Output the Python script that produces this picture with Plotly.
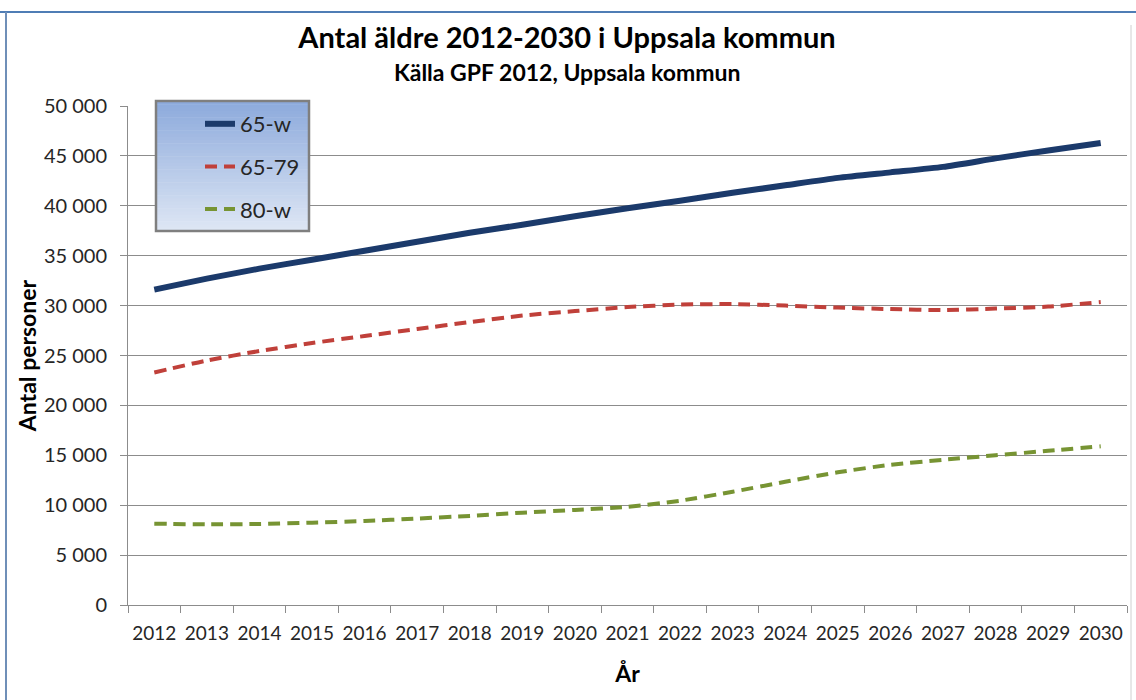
import plotly.graph_objects as go

years = [str(y) for y in range(2012, 2031)]
age_65w = [31600, 32700, 33700, 34600, 35500, 36400, 37300, 38100, 38950, 39750,
           40500, 41300, 42050, 42800, 43350, 43900, 44750, 45550, 46300]
age_65_79 = [23300, 24500, 25450, 26250, 26950, 27650, 28350, 29000, 29450, 29850,
             30100, 30150, 30000, 29800, 29650, 29550, 29700, 29900, 30350]
age_80w = [8150, 8080, 8120, 8250, 8420, 8660, 8930, 9250, 9530, 9830,
           10450, 11350, 12350, 13300, 14050, 14550, 15000, 15450, 15900]
y_ticks = [0, 5000, 10000, 15000, 20000, 25000, 30000, 35000, 40000, 45000, 50000]
y_labels = ["0", "5 000", "10 000", "15 000", "20 000", "25 000", "30 000",
            "35 000", "40 000", "45 000", "50 000"]

FONT = "Lato, 'Open Sans', sans-serif"
W, H = 1136, 700
L, R, T, B = 128, 1127, 106, 605  # plot area in px


def px(x):
    return (x - L) / (R - L)


def py(y):
    return (B - y) / (B - T)


fig = go.Figure()
fig.add_trace(go.Scatter(x=years, y=age_65w, name="65-w", mode="lines", legendgroup="a",
                         line=dict(color="#1B3A6B", width=6, shape="spline", smoothing=0.6)))
fig.add_trace(go.Scatter(x=years, y=age_65_79, name="65-79", mode="lines", legendgroup="b",
                         line=dict(color="#C0403A", width=4, dash="12px,7px", shape="spline", smoothing=0.6)))
fig.add_trace(go.Scatter(x=years, y=age_80w, name="80-w", mode="lines", legendgroup="c",
                         line=dict(color="#779433", width=4, dash="12px,7px", shape="spline", smoothing=0.6)))

shapes = []
# legend box gradient
lx0, lx1, ly0, ly1 = 156, 309, 101, 231
n = 40
top = (0x8D, 0xAA, 0xDC)
bot = (0xDD, 0xE6, 0xF4)
for i in range(n):
    t = i / (n - 1)
    c = tuple(round(top[k] + (bot[k] - top[k]) * t) for k in range(3))
    y0 = ly0 + (ly1 - ly0) * i / n
    y1 = ly0 + (ly1 - ly0) * (i + 1) / n + 0.6
    shapes.append(dict(type="rect", xref="paper", yref="paper", layer="above",
                       x0=px(lx0), x1=px(lx1), y0=py(y0), y1=py(min(y1, ly1)),
                       line=dict(width=0), fillcolor="rgb(%d,%d,%d)" % c))
shapes.append(dict(type="rect", xref="paper", yref="paper", layer="above",
                   x0=px(lx0), x1=px(lx1), y0=py(ly0), y1=py(ly1),
                   line=dict(color="#7F7F7F", width=2.5), fillcolor="rgba(0,0,0,0)"))
# chart border
shapes.append(dict(type="line", xref="paper", yref="paper", x0=px(0), x1=px(1136), y0=py(12), y1=py(12),
                   line=dict(color="#4F7DB5", width=2)))
shapes.append(dict(type="line", xref="paper", yref="paper", x0=px(6), x1=px(6), y0=py(12), y1=py(705),
                   line=dict(color="#6F8FB8", width=2)))
shapes.append(dict(type="line", xref="paper", yref="paper", x0=px(1131), x1=px(1131), y0=py(25), y1=py(705),
                   line=dict(color="#D0D0D0", width=1)))

fig.update_layout(
    width=W, height=H,
    margin=dict(l=L, r=W - R, t=T, b=H - B, pad=0, autoexpand=False),
    paper_bgcolor="white", plot_bgcolor="white",
    font=dict(family=FONT, size=19, color="#262626"),
    title=dict(text="<b>Antal äldre 2012-2030 i Uppsala kommun</b>", x=567 / W, xanchor="center",
               y=1 - 38 / H, yanchor="middle", font=dict(size=29, color="black")),
    annotations=[dict(text="<b>Källa GPF 2012, Uppsala kommun</b>", xref="paper", yref="paper",
                      x=px(567), y=py(72), showarrow=False, xanchor="center", yanchor="middle",
                      font=dict(size=23, color="black"))],
    shapes=shapes,
    showlegend=True,
    legend=dict(x=px(200), y=py(103), xanchor="left", yanchor="top", bgcolor="rgba(0,0,0,0)",
                borderwidth=0, font=dict(size=22, color="#262626"), traceorder="grouped",
                tracegroupgap=11, itemwidth=30),
    xaxis=dict(type="category", categoryorder="array", categoryarray=years, automargin=False,
               range=[-0.5, len(years) - 0.5], tickangle=0,
               tickson="boundaries", ticks="outside", ticklen=7, tickcolor="#8C8C8C",
               ticklabelstandoff=11,
               showline=True, linecolor="#8C8C8C", linewidth=1, showgrid=False,
               tickfont=dict(size=19, color="#262626"),
               title=dict(text="<b>År</b>", font=dict(size=23, color="black"), standoff=23)),
    yaxis=dict(range=[0, 50000], tickvals=y_ticks, ticktext=y_labels, ticks="outside", ticklen=7,
               automargin=False, ticklabelstandoff=9,
               tickcolor="#8C8C8C", showline=True, linecolor="#8C8C8C", linewidth=1,
               showgrid=True, gridcolor="#8C8C8C", gridwidth=1, zeroline=False,
               tickfont=dict(size=20, color="#262626"),
               title=dict(text="<b>Antal personer</b>", font=dict(size=23, color="black"), standoff=0)),
)

fig.write_html("out.html", config={"displayModeBar": False},
               post_script="document.body.style.margin='0';document.body.style.overflow='hidden';")
